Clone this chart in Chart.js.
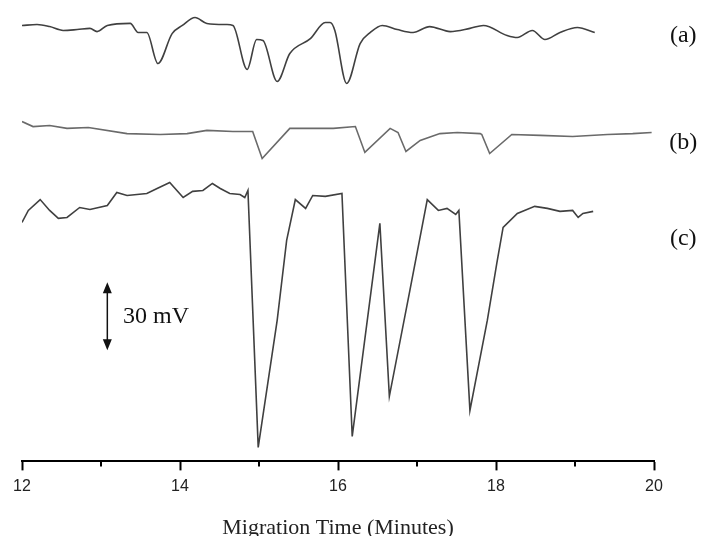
<!DOCTYPE html>
<html lang="en">
<head>
  <meta charset="UTF-8">
  <title>Migration Time electropherograms</title>
  <script src="https://cdn.jsdelivr.net/npm/chart.js"></script>
  <style>
    html, body { margin: 0; padding: 0; background: #fff; }
    canvas { display: block; }
  </style>
</head>
<body>
  <canvas id="cePlot" width="702" height="536"></canvas>

  <script>
    // migration time (minutes) and signal (mV, offset so traces stack)
    const timeA = [12.00, 12.19, 12.35, 12.52, 12.70, 12.86, 12.95, 13.08, 13.37, 13.47, 13.58, 13.72, 13.90, 14.03, 14.19, 14.34, 14.59, 14.67, 14.85, 14.97, 15.05, 15.23, 15.39, 15.65, 15.84, 15.90, 15.96, 16.11, 16.28, 16.41, 16.56, 16.75, 16.95, 17.16, 17.42, 17.67, 17.84, 18.14, 18.27, 18.46, 18.62, 18.81, 19.03, 19.25];
    const mvA   = [192.3, 192.7, 191.8, 190.1, 190.5, 191.0, 189.6, 192.3, 193.2, 189.2, 189.2, 175.5, 188.7, 192.3, 195.8, 193.2, 192.7, 192.3, 172.9, 186.1, 185.7, 167.6, 179.9, 186.5, 193.6, 193.6, 190.1, 166.7, 184.3, 189.2, 192.3, 190.5, 189.2, 191.8, 189.6, 191.0, 192.3, 187.9, 187.0, 190.1, 186.1, 189.2, 191.4, 189.2];

    const timeB = [12.00, 12.14, 12.35, 12.57, 12.84, 13.33, 13.75, 14.09, 14.34, 14.67, 14.92, 15.04, 15.39, 15.94, 16.22, 16.34, 16.66, 16.76, 16.86, 17.04, 17.29, 17.51, 17.80, 17.82, 17.92, 18.20, 18.56, 18.97, 19.41, 19.73, 19.97];
    const mvB   = [149.9, 147.7, 148.2, 146.9, 147.3, 144.6, 144.2, 144.6, 146.0, 145.5, 145.5, 133.6, 146.9, 146.9, 147.7, 136.3, 146.9, 145.1, 136.7, 141.6, 144.6, 145.1, 144.6, 144.2, 135.8, 144.2, 143.8, 143.3, 144.2, 144.6, 145.1];

    const timeC = [12.00, 12.08, 12.23, 12.35, 12.46, 12.57, 12.73, 12.86, 13.08, 13.20, 13.33, 13.58, 13.71, 13.87, 14.04, 14.16, 14.29, 14.41, 14.51, 14.63, 14.76, 14.82, 14.86, 14.99, 15.23, 15.35, 15.46, 15.59, 15.68, 15.84, 16.05, 16.18, 16.53, 16.65, 16.91, 17.13, 17.27, 17.38, 17.49, 17.53, 17.67, 17.89, 18.01, 18.09, 18.27, 18.49, 18.65, 18.81, 18.97, 19.04, 19.10, 19.23];
    const mvC   = [105.4, 110.7, 115.5, 110.7, 107.2, 107.6, 112.0, 111.1, 112.9, 118.6, 117.3, 118.2, 120.4, 123.0, 116.4, 119.1, 119.5, 122.6, 120.4, 118.2, 117.7, 116.4, 119.5, 6.2, 62.2, 97.5, 115.5, 111.6, 117.3, 116.9, 118.2, 11.0, 105.0, 28.7, 75.4, 115.5, 110.7, 111.6, 108.9, 110.7, 22.5, 62.2, 87.3, 103.2, 109.4, 112.5, 111.6, 110.3, 110.7, 107.6, 109.4, 110.3];

    const traceLabels = ['(a)', '(b)', '(c)'];
    const labelAt = { t: 20.37, mv: [187.9, 140.7, 98.3] };
    const scaleBar = { t: 13.08, from: 49, to: 79, text: '30 mV', textT: 13.28 };

    const pts = (xs, ys) => xs.map((x, i) => ({ x: x, y: ys[i] }));

    // labels, scale bar, minor ticks
    const extras = {
      id: 'extras',
      afterDraw(chart) {
        const c = chart.ctx, x = chart.scales.x, y = chart.scales.y;
        c.save();

        // minor ticks on odd minutes
        c.strokeStyle = '#000';
        c.lineWidth = 2;
        for (let t = x.min + 1; t < x.max; t += 2) {
          const px = x.getPixelForValue(t);
          c.beginPath();
          c.moveTo(px, chart.chartArea.bottom);
          c.lineTo(px, chart.chartArea.bottom + 5);
          c.stroke();
        }

        c.fillStyle = '#111';
        c.font = '24px "Liberation Serif", "Times New Roman", serif';
        c.textAlign = 'center';
        c.textBaseline = 'middle';
        traceLabels.forEach((lab, i) => {
          c.fillText(lab, x.getPixelForValue(labelAt.t), y.getPixelForValue(labelAt.mv[i]));
        });

        // 30 mV double arrow
        const ax = x.getPixelForValue(scaleBar.t);
        const top = y.getPixelForValue(scaleBar.to);
        const bot = y.getPixelForValue(scaleBar.from);
        c.strokeStyle = '#111';
        c.lineWidth = 1.5;
        c.beginPath();
        c.moveTo(ax, top + 6);
        c.lineTo(ax, bot - 6);
        c.stroke();
        c.beginPath();
        c.moveTo(ax, top); c.lineTo(ax - 4.5, top + 11); c.lineTo(ax + 4.5, top + 11); c.closePath();
        c.moveTo(ax, bot); c.lineTo(ax - 4.5, bot - 11); c.lineTo(ax + 4.5, bot - 11); c.closePath();
        c.fill();

        c.textAlign = 'left';
        c.fillText(scaleBar.text, x.getPixelForValue(scaleBar.textT), y.getPixelForValue((scaleBar.from + scaleBar.to) / 2));
        c.restore();
      }
    };

    const ctx = document.getElementById('cePlot').getContext('2d');
    new Chart(ctx, {
      type: 'line',
      data: {
        datasets: [
          { label: 'a', data: pts(timeA, mvA), borderColor: '#404040', borderWidth: 1.6, cubicInterpolationMode: 'monotone' },
          { label: 'b', data: pts(timeB, mvB), borderColor: '#6a6a6a', borderWidth: 1.6, tension: 0 },
          { label: 'c', data: pts(timeC, mvC), borderColor: '#404040', borderWidth: 1.6, tension: 0 }
        ]
      },
      options: {
        responsive: false,
        animation: false,
        elements: { point: { radius: 0 } },
        layout: { padding: { top: 8, left: 22, right: 48, bottom: 0 } },
        plugins: { legend: { display: false }, tooltip: { enabled: false } },
        scales: {
          x: {
            type: 'linear',
            min: 12, max: 20,
            border: { display: true, color: '#000', width: 2 },
            grid: {
              drawOnChartArea: false,
              tickLength: 9,
              tickWidth: 2,
              tickColor: c => (c.tick && c.tick.value % 2 === 0) ? '#000' : 'rgba(0,0,0,0)'
            },
            ticks: {
              stepSize: 1,
              padding: 7,
              color: '#222',
              font: { family: '"Liberation Sans", Arial, sans-serif', size: 16 },
              callback: v => v % 2 === 0 ? v : ''
            },
            title: {
              display: true,
              text: 'Migration Time (Minutes)',
              color: '#222',
              font: { family: '"Liberation Serif", "Times New Roman", serif', size: 22, lineHeight: 0.7 },
              padding: { top: 17, bottom: 0 }
            }
          },
          y: { display: false, min: 0, max: 200 }
        }
      },
      plugins: [extras]
    });
  </script>
</body>
</html>
